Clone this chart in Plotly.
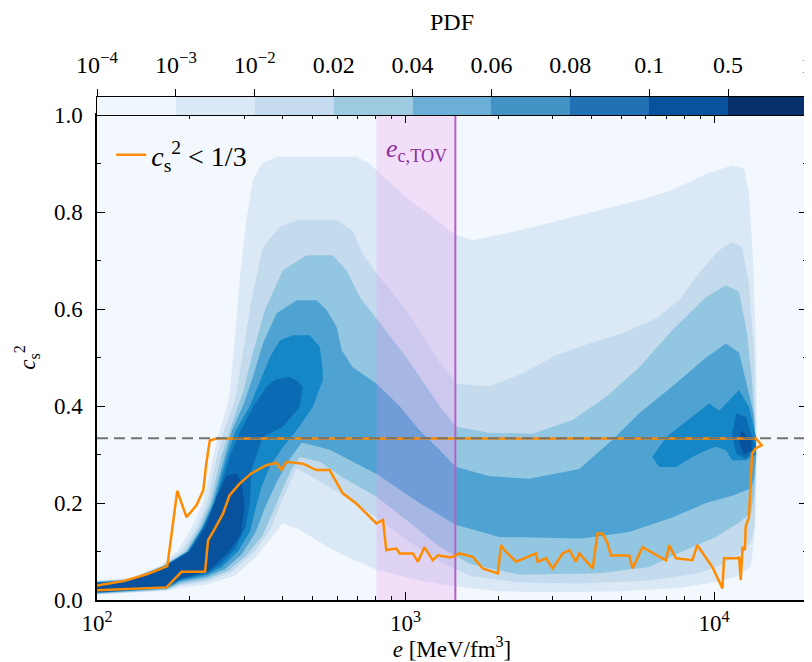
import plotly.graph_objects as go

# ---------------- data ----------------
# PDF contour regions (energy density e [MeV/fm^3], squared sound speed c_s^2)
L1_e = [100,128,160,182,203,220,230,239,245,264,270,280,292,305,320,342,382,694,765,824,1007,1223,1420,1650,2120,2715,3470,4470,5720,7310,9420,11440,12500,12980,13370,13700,13750,13600,13180,
        12050,10380,7700,4930,3150,2015,1452,1110,806,580,454,400,368,330,280,227,186,168,100]
L1_c = [0.040,0.046,0.070,0.100,0.150,0.200,0.250,0.300,0.330,0.400,0.433,0.542,0.680,0.783,0.866,0.900,0.914,0.914,0.900,0.880,0.830,0.790,0.756,0.742,0.756,0.772,0.790,0.807,0.824,0.845,0.879,0.896,0.890,0.838,0.700,0.500,0.300,0.150,0.070,
        0.050,0.038,0.025,0.018,0.016,0.018,0.028,0.040,0.062,0.103,0.145,0.158,0.130,0.090,0.050,0.032,0.025,0.019,0.011]

L2_e = [100,128,162,188,211,227,236,246,258,276,284,295,315,345,391,444,598,674,726,806,1007,1288,1462,1870,2391,3081,3941,5038,6491,7702,8943,10380,11436,12320,12980,13500,13700,13500,13176,
        12047,10380,8943,6161,3658,2338,1612,1288,1030,806,612,508,444,421,394,368,325,274,227,186,168,100]
L2_c = [0.039,0.044,0.070,0.100,0.150,0.200,0.250,0.300,0.350,0.400,0.433,0.500,0.611,0.728,0.769,0.783,0.783,0.762,0.714,0.673,0.597,0.490,0.446,0.440,0.467,0.505,0.529,0.550,0.581,0.618,0.674,0.721,0.738,0.728,0.650,0.500,0.300,0.150,0.120,
        0.095,0.070,0.055,0.040,0.034,0.036,0.050,0.080,0.120,0.170,0.220,0.250,0.272,0.240,0.200,0.150,0.100,0.058,0.038,0.030,0.020,0.012]

L3_e = [100,128,164,193,215,232,243,254,270,286,299,317,350,400,478,580,644,710,806,1007,1288,1462,1870,2576,3472,4472,5719,7312,9421,10935,12047,12788,13274,13700,13500,13176,
        12047,10150,7875,6161,4245,2338,1612,1288,1030,806,635,527,454,428,400,371,342,303,265,227,186,168,100]
L3_c = [0.038,0.043,0.070,0.100,0.150,0.200,0.250,0.300,0.350,0.400,0.433,0.500,0.598,0.680,0.711,0.711,0.680,0.625,0.580,0.500,0.400,0.357,0.345,0.343,0.371,0.419,0.480,0.556,0.625,0.649,0.635,0.550,0.450,0.300,0.220,0.180,
        0.160,0.130,0.100,0.068,0.055,0.052,0.075,0.110,0.160,0.213,0.250,0.285,0.295,0.270,0.230,0.180,0.130,0.090,0.060,0.043,0.033,0.021,0.013]

L4_e = [100,128,165,196,219,236,248,260,274,297,320,345,382,444,515,555,598,621,674,806,956,1110,1288,1452,1870,2520,3658,4676,5719,7312,9421,10935,12047,12693,13474,13680,13474,13176,
        11436,9421,7312,5308,3740,2015,1452,1110,806,568,461,421,380,350,327,295,260,227,186,168,100]
L4_c = [0.037,0.042,0.070,0.100,0.150,0.200,0.250,0.300,0.350,0.400,0.460,0.529,0.591,0.618,0.618,0.598,0.563,0.515,0.480,0.446,0.400,0.350,0.310,0.275,0.255,0.250,0.270,0.330,0.385,0.440,0.500,0.529,0.510,0.450,0.380,0.300,0.250,0.230,
        0.215,0.200,0.170,0.140,0.127,0.130,0.155,0.200,0.260,0.310,0.325,0.290,0.240,0.190,0.140,0.095,0.064,0.048,0.037,0.023,0.014]

L5_left_e = [100,128,165,197,220,239,252,265,282,313,342,363,391,431,489,527,539,539,500,444,400,363,342,327,313,286,254,227,186,168,128,100]
L5_left_c = [0.036,0.041,0.070,0.100,0.150,0.200,0.250,0.300,0.350,0.400,0.460,0.500,0.535,0.546,0.546,0.522,0.474,0.453,0.398,0.350,0.315,0.275,0.235,0.190,0.140,0.100,0.068,0.052,0.040,0.025,0.019,0.015]
L5_right_e = [6301,6995,8489,9634,10380,11183,12047,12980,13677,13677,12693,11436,10935,10150,9421,8489,7535,6637]
L5_right_c = [0.295,0.336,0.378,0.405,0.390,0.412,0.433,0.398,0.336,0.300,0.288,0.288,0.309,0.316,0.309,0.295,0.274,0.274]

L6_left_e = [100,128,166,198,222,241,256,271,292,322,355,380,421,450,464,454,400,345,317,313,303,280,250,227,186,168,128,100]
L6_left_c = [0.036,0.040,0.070,0.100,0.150,0.200,0.250,0.300,0.350,0.400,0.440,0.455,0.460,0.450,0.439,0.398,0.357,0.336,0.270,0.200,0.150,0.105,0.072,0.055,0.042,0.026,0.020,0.0155]
L6_right_e = [11782,12693,13274,13677,12693,11782,11436]
L6_right_c = [0.385,0.378,0.336,0.315,0.292,0.302,0.343]

L7_left_e = [100,128,164,200,225,244,263,283,295,301,292,270,244,227,186,168,128,100]
L7_left_c = [0.034,0.039,0.067,0.100,0.151,0.213,0.255,0.262,0.240,0.190,0.135,0.103,0.075,0.058,0.045,0.028,0.021,0.0165]
L7_right_e = [12230,13176,13274,12505,12047]
L7_right_c = [0.350,0.330,0.309,0.300,0.325]

# c_s^2 < 1/3 envelope (upper bound then lower bound)
cs2_e = [100,122,145,169,182,195,210,221,226,232,244,13650,14260,13650,13270,13130,12970,12650,12590,12360,
         12200,12050,11900,10770,10640,9870,8820,8500,7520,7150,6980,5860,5440,5310,4630,4515,4350,4190,4040,3655,
         3566,3395,3229,2997,2853,2681,2648,2281,2090,2040,1990,1779,1651,1495,1422,1387,1273,1225,1151,1096,
         1056,957,933,866,845,804,692,626,567,514,465,411,396,382,354,316,290,269,256,241,229,224,188,168,100]
cs2_c = [0.030,0.039,0.053,0.070,0.225,0.171,0.195,0.226,0.281,0.329,0.333,0.333,0.319,0.313,0.302,0.226,0.171,0.151,0.103,0.109,
         0.041,0.089,0.086,0.086,0.024,0.068,0.113,0.082,0.086,0.113,0.082,0.109,0.065,0.092,0.092,0.117,0.137,0.137,0.065,0.096,
         0.079,0.103,0.096,0.065,0.086,0.079,0.096,0.079,0.103,0.113,0.055,0.065,0.089,0.096,0.089,0.088,0.092,0.082,0.109,0.079,
         0.096,0.096,0.106,0.103,0.165,0.158,0.199,0.220,0.268,0.268,0.281,0.285,0.268,0.283,0.278,0.261,0.240,0.216,0.178,0.147,
         0.123,0.058,0.058,0.026,0.020]

CONFORMAL = 1 / 3
TOV_BAND = [805, 1450]
E_C_TOV = 1450
E_RANGE = [100, 20000]

PDF_LEVEL_LABELS = ['10<sup>−4</sup>', '10<sup>−3</sup>', '10<sup>−2</sup>', '0.02', '0.04', '0.06',
                    '0.08', '0.1', '0.5', '1']
E_TICKS = [100, 1000, 10000]
E_TICK_LABELS = ['10<sup>2</sup>', '10<sup>3</sup>', '10<sup>4</sup>']
CBAR_COLORS = ['#eff6fc', '#dbe9f6', '#c6dbef', '#9ecae1', '#6baed6', '#4292c6', '#2171b5', '#08519c', '#08306b']
FILL_COLORS = ['#dbe9f6', '#c4dbee', '#93c6e0', '#4ea3d2', '#1687c6', '#0b6ab4', '#08519c']
BG = '#f2f8fd'
FONT = 'Liberation Serif'


def join(*parts):
    xs, ys = [], []
    for i in range(0, len(parts), 2):
        if xs:
            xs.append(None)
            ys.append(None)
        xs += list(parts[i])
        ys += list(parts[i + 1])
    return xs, ys


levels = [
    join(L1_e, L1_c),
    join(L2_e, L2_c),
    join(L3_e, L3_c),
    join(L4_e, L4_c),
    join(L5_left_e, L5_left_c, L5_right_e, L5_right_c),
    join(L6_left_e, L6_left_c, L6_right_e, L6_right_c),
    join(L7_left_e, L7_left_c, L7_right_e, L7_right_c),
]

fig = go.Figure()

for (xs, ys), col in zip(levels, FILL_COLORS):
    fig.add_trace(go.Scatter(x=xs, y=ys, mode='lines', fill='toself', fillcolor=col,
                             line=dict(width=0, color=col), showlegend=False, hoverinfo='skip'))

# TOV band and line
fig.add_trace(go.Scatter(x=[TOV_BAND[0], TOV_BAND[1], TOV_BAND[1], TOV_BAND[0], TOV_BAND[0]],
                         y=[0, 0, 1, 1, 0], mode='lines', fill='toself',
                         fillcolor='rgba(238,130,238,0.22)', line=dict(width=0),
                         showlegend=False, hoverinfo='skip'))
fig.add_trace(go.Scatter(x=[E_C_TOV, E_C_TOV], y=[0, 1], mode='lines',
                         line=dict(color='#b461c4', width=2), showlegend=False, hoverinfo='skip'))

# c_s^2 < 1/3 envelope
fig.add_trace(go.Scatter(x=cs2_e, y=cs2_c, mode='lines',
                         name='<i>c</i><sub>s</sub><sup>2</sup> &lt; 1/3',
                         line=dict(color='#ff8c00', width=2.5)))

# conformal line
fig.add_trace(go.Scatter(x=E_RANGE, y=[CONFORMAL, CONFORMAL], mode='lines',
                         line=dict(color='#737373', width=2, dash='11px,6px'),
                         showlegend=False, hoverinfo='skip'))

# colorbar strip
n = len(CBAR_COLORS)
cscale = []
for i, c in enumerate(CBAR_COLORS):
    cscale.append([i / n, c])
    cscale.append([(i + 1) / n, c])
fig.add_trace(go.Heatmap(x=list(range(n + 1)), y=[0, 1], z=[list(range(n))],
                         xaxis='x2', yaxis='y2', colorscale=cscale, zmin=-0.5, zmax=n - 0.5,
                         showscale=False, hoverinfo='skip'))

minor_x = [m * d for d in (100, 1000, 10000) for m in range(2, 10) if m * d <= 20000]

# the page body has an 8px margin, so the figure is laid out 8px smaller
W, H = 804, 654
ML, MT, MR = 89, 89, 5
MB = H - (MT + 503)
main_h = 485 / 503
fig.update_layout(
    width=W, height=H,
    margin=dict(l=ML, r=MR, t=MT, b=MB),
    paper_bgcolor='white', plot_bgcolor=BG,
    font=dict(family=FONT, size=22, color='black'),
    xaxis=dict(type='log', range=[2, 4.301], domain=[0, 1], anchor='y', automargin=False,
               tickvals=E_TICKS, ticktext=E_TICK_LABELS,
               ticks='inside', ticklen=8, tickwidth=1.2, tickcolor='black',
               minor=dict(tickmode='array', tickvals=minor_x, ticks='inside', ticklen=4,
                          tickwidth=1, tickcolor='black', showgrid=False),
               showline=True, linecolor='black', linewidth=1.5, mirror='allticks',
               showgrid=False, zeroline=False, ticklabelstandoff=2,
               tickfont=dict(size=23),
               title=dict(text='<i>e</i> [MeV/fm<sup>3</sup>]', font=dict(size=23), standoff=2)),
    yaxis=dict(range=[0, 1], domain=[0, main_h], anchor='x', automargin=False,
               tickvals=[0, 0.2, 0.4, 0.6, 0.8, 1.0],
               ticktext=['0.0', '0.2', '0.4', '0.6', '0.8', '1.0'],
               ticks='inside', ticklen=8, tickwidth=1.2, tickcolor='black',
               minor=dict(tickmode='array', tickvals=[0.1, 0.3, 0.5, 0.7, 0.9], ticks='inside',
                          ticklen=4, tickwidth=1, tickcolor='black', showgrid=False),
               showline=True, linecolor='black', linewidth=1.5, mirror='allticks',
               showgrid=False, zeroline=False, ticklabelstandoff=8,
               tickfont=dict(size=23),
               title=dict(text='<i>c</i><sub>s</sub><sup>2</sup>', font=dict(size=23), standoff=12)),
    xaxis2=dict(range=[0, n], domain=[0, 1], anchor='y2', side='top', automargin=False,
                tickmode='array', tickvals=list(range(n + 1)), ticktext=PDF_LEVEL_LABELS,
                ticks='outside', ticklen=7, tickwidth=1.3, tickcolor='black',
                ticklabeloverflow='allow',
                showline=True, linecolor='black', linewidth=1.2, mirror=True,
                showgrid=False, zeroline=False, tickfont=dict(size=24), ticklabelstandoff=6,
                title=dict(text='PDF', font=dict(size=24), standoff=10)),
    yaxis2=dict(range=[0, 1], domain=[main_h, 1], anchor='x2', automargin=False,
                showticklabels=False, ticks='', showline=True, linecolor='black',
                linewidth=1.2, mirror=True, showgrid=False, zeroline=False),
    legend=dict(x=0.02, y=(592 - 147) / 503, xanchor='left', yanchor='middle',
                bgcolor='rgba(0,0,0,0)', font=dict(size=28, family=FONT)),
    annotations=[dict(text='<i>e</i><sub>c,TOV</sub>', xref='paper', yref='paper',
                      x=(449 - 97) / 710, y=(600 - 150) / 503, xanchor='right', yanchor='middle',
                      showarrow=False, font=dict(size=26, color='#8e2c9c', family=FONT))],
)

fig.write_html('out.html')
